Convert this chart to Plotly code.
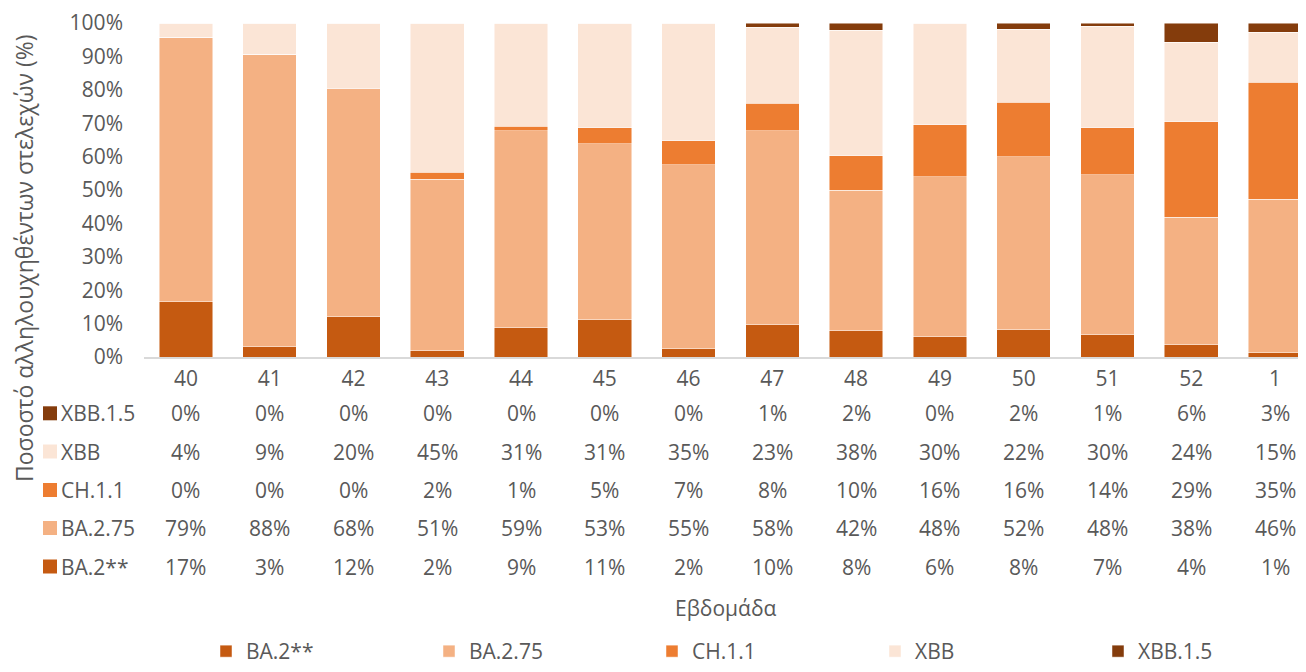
import plotly.graph_objects as go

weeks = ["40", "41", "42", "43", "44", "45", "46", "47", "48", "49", "50", "51", "52", "1"]

ba2 = [16.6, 3.0, 12.0, 1.8, 8.7, 11.1, 2.4, 9.6, 7.8, 6.0, 8.1, 6.6, 3.6, 1.3]
ba275 = [79.2, 87.7, 68.3, 51.4, 59.0, 52.7, 55.1, 58.1, 42.2, 47.9, 51.8, 47.9, 38.2, 46.0]
ch11 = [0.0, 0.0, 0.0, 2.1, 1.4, 4.8, 7.2, 8.3, 10.2, 15.7, 16.4, 14.1, 28.6, 35.0]
xbb = [4.2, 9.3, 19.7, 44.7, 30.9, 31.4, 35.3, 22.8, 37.7, 30.4, 21.9, 30.4, 23.8, 15.0]
xbb15 = [0.0, 0.0, 0.0, 0.0, 0.0, 0.0, 0.0, 1.2, 2.1, 0.0, 1.8, 1.0, 5.8, 2.7]

series_names = ["BA.2**", "BA.2.75", "CH.1.1", "XBB", "XBB.1.5"]
series_values = [ba2, ba275, ch11, xbb, xbb15]
series_colors = ["#C55A11", "#F4B183", "#ED7D31", "#FBE5D6", "#843C0C"]

y_ticks = list(range(0, 101, 10))
y_ticktext = [f"{v}%" for v in y_ticks]

y_title = "Ποσοστό αλληλουχηθέντων στελεχών (%)"
x_title = "Εβδομάδα"

FONT = "Open Sans"
GREY = "#595959"
FS = 21

# the page body has an 8px margin, so the figure is drawn 8px smaller
OFF = 8
W, H = 1306 - OFF, 672 - OFF
ML, MR, MT, MB = 144 - OFF, 0, 23 - OFF, 315
PW = W - ML - MR
PH = H - MT - MB
PLOT_BOTTOM = H - MB + OFF  # in page pixels


def px_to_yp(py):
    return (PLOT_BOTTOM - py) / PH


def px_to_xp(px):
    return (px - OFF - ML) / PW


fig = go.Figure()
for name, vals, col in zip(series_names, series_values, series_colors):
    fig.add_trace(go.Bar(
        x=weeks, y=vals, name=name,
        marker=dict(color=col, line=dict(color="rgba(255,255,255,0.6)", width=0.8)),
    ))

# data table rows (top to bottom)
row_py = {"XBB.1.5": 413.3, "XBB": 451.5, "CH.1.1": 490.0, "BA.2.75": 528.0, "BA.2**": 566.5}
annotations = []
shapes = []
for name, vals, col in zip(series_names, series_values, series_colors):
    yp = px_to_yp(row_py[name])
    for i, v in enumerate(vals):
        annotations.append(dict(
            x=i, xref="x", y=yp, yref="paper", text=f"{round(v)}%",
            showarrow=False, xanchor="center", yanchor="middle",
            font=dict(family=FONT, size=FS, color=GREY),
        ))
    annotations.append(dict(
        x=px_to_xp(59), xref="paper", y=yp, yref="paper", text=name,
        showarrow=False, xanchor="left", yanchor="middle",
        font=dict(family=FONT, size=FS, color=GREY),
    ))
    shapes.append(dict(
        type="rect", xref="paper", yref="paper",
        x0=px_to_xp(43), x1=px_to_xp(57),
        y0=px_to_yp(row_py[name] - 7), y1=px_to_yp(row_py[name] + 7),
        fillcolor=col, line=dict(width=0),
    ))

annotations.append(dict(
    x=px_to_xp(24), xref="paper", y=px_to_yp(258), yref="paper", text=y_title,
    textangle=-90, showarrow=False, xanchor="center", yanchor="middle",
    font=dict(family=FONT, size=23, color=GREY),
))
annotations.append(dict(
    x=0.5, xref="paper", y=px_to_yp(608), yref="paper", text=x_title,
    showarrow=False, xanchor="center", yanchor="middle",
    font=dict(family=FONT, size=FS, color=GREY),
))

fig.update_layout(
    width=W, height=H,
    margin=dict(l=ML, r=MR, t=MT, b=MB, autoexpand=False),
    barmode="stack", bargap=0.36,
    plot_bgcolor="white", paper_bgcolor="white",
    font=dict(family=FONT, size=FS, color=GREY),
    annotations=annotations, shapes=shapes,
    legend=dict(
        orientation="h", x=px_to_xp(206), xanchor="left",
        y=px_to_yp(672), yanchor="bottom",
        traceorder="normal", entrywidth=178, entrywidthmode="pixels",
        font=dict(family=FONT, size=FS, color=GREY),
    ),
    xaxis=dict(
        type="category", categoryorder="array", categoryarray=weeks,
        range=[-0.5, 13.37], showline=True, linecolor="#D9D9D9", linewidth=1.5,
        showgrid=False, ticks="", ticklabelstandoff=2,
        tickfont=dict(family=FONT, size=FS, color=GREY),
    ),
    yaxis=dict(
        range=[0, 100], tickvals=y_ticks, ticktext=y_ticktext,
        showgrid=False, zeroline=False, showline=False, ticks="",
        ticklabelstandoff=20,
        tickfont=dict(family=FONT, size=FS, color=GREY),
    ),
)

fig.write_html("out.html")
